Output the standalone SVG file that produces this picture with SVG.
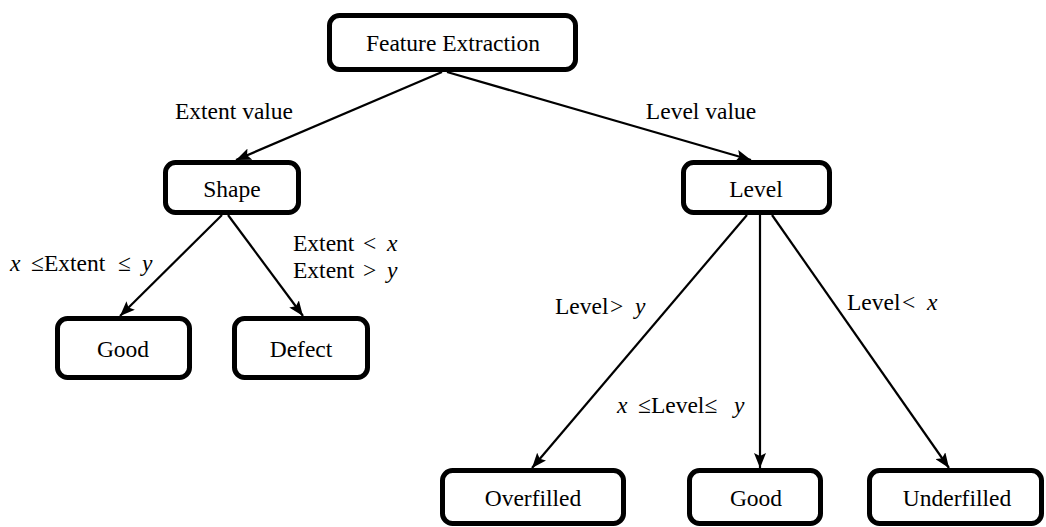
<svg xmlns="http://www.w3.org/2000/svg" width="1046" height="527" viewBox="0 0 1046 527">
<style>
.box{fill:#fff;stroke:#000;stroke-width:5}
.t{font-family:"Liberation Serif","Times New Roman",serif;font-size:23.5px;fill:#000;dominant-baseline:central}
.c{text-anchor:middle}
.m{font-style:italic}
.ln{stroke:#000;stroke-width:2.2;fill:none;marker-end:url(#ah)}
</style>
<defs>
<marker id="ah" viewBox="0 0 15 12" refX="15" refY="6" markerWidth="15" markerHeight="12" markerUnits="userSpaceOnUse" orient="auto">
<path d="M0,0 L15,6 L0,12 L3,6 Z" fill="#000"/>
</marker>
</defs>
<g id="connectors">
<line class="ln" x1="442" y1="72" x2="236" y2="160"/>
<line class="ln" x1="447" y1="72" x2="751" y2="160"/>
<line class="ln" x1="222" y1="215" x2="120" y2="316"/>
<line class="ln" x1="228" y1="215" x2="303" y2="316"/>
<line class="ln" x1="747" y1="215" x2="532" y2="468"/>
<line class="ln" x1="760" y1="215" x2="760" y2="468"/>
<line class="ln" x1="772" y1="215" x2="949" y2="468"/>
</g>
<g id="labels">
<text class="t c" x="234" y="111">Extent value</text>
<text class="t c" x="701" y="111">Level value</text>
<text class="t" y="263"><tspan class="m" x="10">x</tspan><tspan x="31">≤Extent</tspan><tspan x="118">≤</tspan><tspan class="m" x="142">y</tspan></text>
<text class="t" y="243"><tspan x="293">Extent</tspan><tspan x="363">&lt;</tspan><tspan class="m" x="387">x</tspan></text>
<text class="t" y="270"><tspan x="293">Extent</tspan><tspan x="363">&gt;</tspan><tspan class="m" x="387">y</tspan></text>
<text class="t" y="306"><tspan x="555">Level</tspan><tspan x="610">&gt;</tspan><tspan class="m" x="635">y</tspan></text>
<text class="t" y="302"><tspan x="847">Level</tspan><tspan x="902">&lt;</tspan><tspan class="m" x="927">x</tspan></text>
<text class="t" y="405"><tspan class="m" x="617">x</tspan><tspan x="638">≤Level≤</tspan><tspan class="m" x="734">y</tspan></text>
</g>
<g id="feature-extraction">
<rect class="box" x="329.5" y="15.5" width="246" height="54" rx="10"/>
<text class="t c" x="453" y="43">Feature Extraction</text>
</g>
<g id="shape">
<rect class="box" x="165.5" y="162.5" width="133" height="50" rx="10"/>
<text class="t c" x="232" y="189">Shape</text>
</g>
<g id="level">
<rect class="box" x="683.5" y="162.5" width="146" height="50" rx="10"/>
<text class="t c" x="756" y="189">Level</text>
</g>
<g id="good-shape">
<rect class="box" x="57.5" y="318.5" width="132" height="59" rx="10"/>
<text class="t c" x="123" y="349">Good</text>
</g>
<g id="defect">
<rect class="box" x="234.5" y="318.5" width="133" height="59" rx="10"/>
<text class="t c" x="301" y="349">Defect</text>
</g>
<g id="overfilled">
<rect class="box" x="442.5" y="470.5" width="181" height="53" rx="10"/>
<text class="t c" x="533" y="498">Overfilled</text>
</g>
<g id="good-level">
<rect class="box" x="689.5" y="470.5" width="131" height="53" rx="10"/>
<text class="t c" x="756" y="498">Good</text>
</g>
<g id="underfilled">
<rect class="box" x="869.5" y="470.5" width="172" height="53" rx="10"/>
<text class="t c" x="957" y="498">Underfilled</text>
</g>
</svg>
